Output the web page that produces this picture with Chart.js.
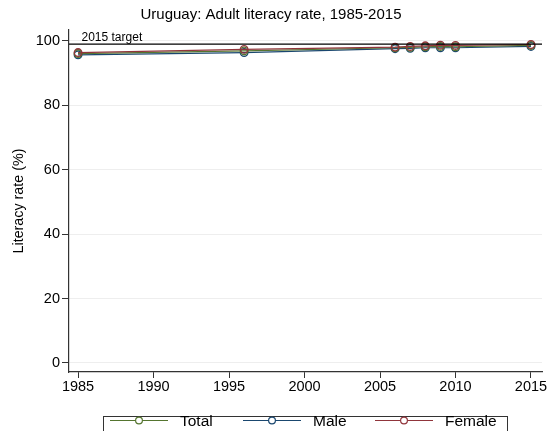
<!DOCTYPE html>
<html>
<head>
<meta charset="utf-8">
<script src="https://cdn.jsdelivr.net/npm/chart.js@4/dist/chart.umd.min.js"></script>
<style>
  html, body { margin: 0; padding: 0; background: #fff; }
  #wrap { width: 548px; height: 431px; }
</style>
</head>
<body>
<div id="wrap"><canvas id="lineChart" width="548" height="431"></canvas></div>
<script>
// data
const years = [1985, 1996, 2006, 2007, 2008, 2009, 2010, 2015];
const totalRate = [96.0, 96.8, 97.8, 97.9, 98.1, 98.2, 98.1, 98.5];
const maleRate = [95.6, 96.3, 97.5, 97.6, 97.8, 97.8, 97.8, 98.2];
const femaleRate = [96.3, 97.3, 98.0, 98.2, 98.4, 98.6, 98.5, 98.8];
const targetValue = 98.9;
const yTicks = [0, 20, 40, 60, 80, 100];
const xTicks = [1985, 1990, 1995, 2000, 2005, 2010, 2015];

const fontName = '"Liberation Sans", Arial, sans-serif';

function toPoints(vals) {
    return years.map((yr, i) => ({ x: yr, y: vals[i] }));
}

function makeSet(label, vals, colour, order) {
    return {
        label: label,
        data: toPoints(vals),
        borderColor: colour,
        backgroundColor: 'rgba(0,0,0,0)',
        borderWidth: 1.2,
        pointRadius: 3.8,
        pointBorderWidth: 1.3,
        pointBorderColor: colour,
        pointBackgroundColor: 'rgba(0,0,0,0)',
        tension: 0,
        order: order
    };
}

// horizontal target line with its label
const targetLine = {
    id: 'targetLine',
    afterDatasetsDraw(chart) {
        const ctx = chart.ctx;
        const area = chart.chartArea;
        const y = chart.scales.y.getPixelForValue(targetValue);
        ctx.save();
        ctx.strokeStyle = '#000';
        ctx.lineWidth = 1.2;
        ctx.beginPath();
        ctx.moveTo(area.left, y);
        ctx.lineTo(area.right, y);
        ctx.stroke();
        ctx.fillStyle = '#000';
        ctx.font = '12px ' + fontName;
        ctx.textBaseline = 'bottom';
        ctx.textAlign = 'left';
        ctx.fillText('2015 target', area.left + 12.5, y - 0.5);
        ctx.restore();
    }
};

// boxed legend under the axis
const boxLegend = {
    id: 'boxLegend',
    afterDraw(chart) {
        const ctx = chart.ctx;
        const sets = chart.data.datasets;
        const slots = [110, 243, 375];
        ctx.save();
        ctx.strokeStyle = '#333';
        ctx.lineWidth = 1;
        ctx.strokeRect(103.5, 416.5, 404, 20);
        ctx.font = '15.5px ' + fontName;
        ctx.textBaseline = 'middle';
        ctx.textAlign = 'left';
        const cy = 420.5;
        sets.forEach((ds, i) => {
            const x0 = slots[i];
            ctx.strokeStyle = ds.borderColor;
            ctx.lineWidth = 1.2;
            ctx.beginPath();
            ctx.moveTo(x0, cy);
            ctx.lineTo(x0 + 58, cy);
            ctx.stroke();
            ctx.beginPath();
            ctx.fillStyle = '#fff';
            ctx.arc(x0 + 29, cy, 3.4, 0, Math.PI * 2);
            ctx.fill();
            ctx.stroke();
            ctx.fillStyle = '#000';
            ctx.fillText(ds.label, x0 + 70, cy + 1.5);
        });
        ctx.restore();
    }
};

const ctx = document.getElementById('lineChart').getContext('2d');
new Chart(ctx, {
    type: 'line',
    data: {
        datasets: [
            makeSet('Total', totalRate, '#55752f', 1),
            makeSet('Male', maleRate, '#1a476f', 2),
            makeSet('Female', femaleRate, '#90353b', 0)
        ]
    },
    options: {
        responsive: false,
        animation: false,
        devicePixelRatio: 1,
        layout: { padding: { left: 0, right: 6, top: 0, bottom: 0 } },
        plugins: {
            legend: { display: false },
            tooltip: { enabled: false },
            title: {
                display: true,
                text: 'Uruguay: Adult literacy rate, 1985-2015',
                color: '#000',
                font: { family: fontName, size: 15, weight: 'normal' },
                padding: { top: 6, bottom: 6 }
            }
        },
        scales: {
            x: {
                type: 'linear',
                min: 1984.4,
                max: 2015.73,
                afterBuildTicks: (axis) => { axis.ticks = xTicks.map(v => ({ value: v })); },
                afterFit: (axis) => { axis.height = 59; },
                grid: {
                    drawOnChartArea: false,
                    drawTicks: true,
                    tickLength: 6,
                    tickColor: '#333'
                },
                border: { color: '#333', width: 1.2 },
                ticks: {
                    color: '#000',
                    padding: 0,
                    maxRotation: 0,
                    font: { family: fontName, size: 14.5 },
                    callback: (v) => String(v)
                }
            },
            y: {
                min: -2.8,
                max: 103.3,
                afterBuildTicks: (axis) => { axis.ticks = yTicks.map(v => ({ value: v })); },
                afterFit: (axis) => { axis.width = 69; },
                grid: {
                    color: '#eeeeee',
                    drawTicks: true,
                    tickLength: 7,
                    tickColor: '#333'
                },
                border: { color: '#333', width: 1.2 },
                title: {
                    display: true,
                    text: 'Literacy rate (%)',
                    color: '#000',
                    font: { family: fontName, size: 14.3 },
                    padding: { top: 10, bottom: 0 }
                },
                ticks: {
                    color: '#000',
                    padding: 2,
                    font: { family: fontName, size: 14.5 }
                }
            }
        }
    },
    plugins: [targetLine, boxLegend]
});
</script>
</body>
</html>
